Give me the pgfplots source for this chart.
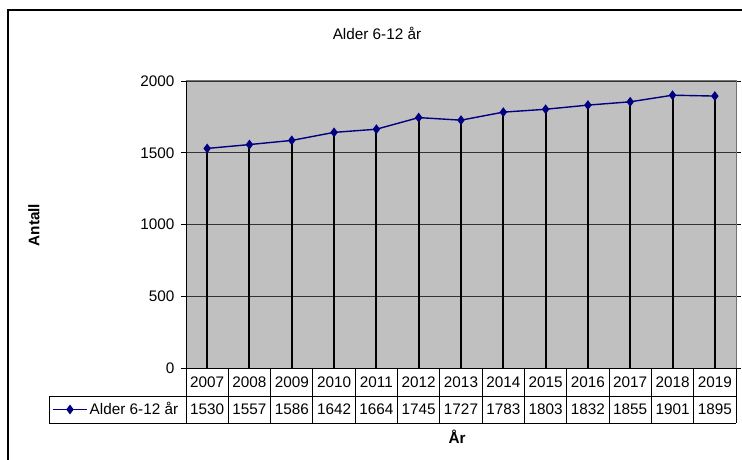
\documentclass[border=0pt]{standalone}
\usepackage{pgfplots}
\pgfplotsset{compat=1.18}
\usepackage{pgfplotstable}
\usepackage{fontspec}
\setmainfont{Liberation Sans}
\definecolor{navy}{HTML}{000080}
\definecolor{plotgray}{HTML}{C0C0C0}
\newcommand{\fs}{\fontsize{15.3}{17}\selectfont}
\pgfplotstableread{
x year v
0 2007 1530
1 2008 1557
2 2009 1586
3 2010 1642
4 2011 1664
5 2012 1745
6 2013 1727
7 2014 1783
8 2015 1803
9 2016 1832
10 2017 1855
11 2018 1901
12 2019 1895
}\datatable
\begin{document}
\begin{tikzpicture}[x=1pt,y=1pt]
\path[use as bounding box] (0,0) rectangle (742,459);
\draw[line width=1.5pt] (8,-30) -- (8,449) -- (745,449);
\begin{axis}[
  at={(186pt,91pt)}, anchor=south west,
  scale only axis, width=550pt, height=287pt,
  xmin=-0.5, xmax=12.5, ymin=0, ymax=2000,
  xtick=\empty,
  ytick={0,500,1000,1500,2000},
  tick align=outside,
  major tick length=5pt,
  ytick style={black, line width=0.8pt},
  axis line style={draw=none},
  axis background/.style={fill=plotgray},
  ymajorgrids,
  grid style={black!80, line width=0.8pt},
  /pgf/number format/assume math mode=true,
  /pgf/number format/set thousands separator={},
  yticklabel style={font=\fs, xshift=-3pt},
  clip=false,
  legend style={draw=none, fill=none, inner sep=0pt, outer sep=0pt,
    at={(axis cs:-3.66,-289.2)}, anchor=west, font=\fs},
  legend image code/.code={\draw[mark repeat=2,mark phase=2] plot coordinates {(0pt,0pt)(17pt,0pt)(34pt,0pt)};},
]
\addplot[ycomb, black, line width=2pt, mark=none, forget plot] table[x=x, y=v] {\datatable};
\addplot[navy, line width=1.4pt, mark=diamond*, mark size=3.8pt, mark options={fill=navy, draw=navy}] table[x=x, y=v] {\datatable};
\addlegendentry{Alder 6-12 år}
\addplot[draw=none, mark=none, forget plot, point meta=explicit symbolic, nodes near coords,
  every node near coord/.append style={anchor=center, font=\fs, inner sep=0pt}]
  table[x=x, y expr=-97.6, meta=year] {\datatable};
\addplot[draw=none, mark=none, forget plot, point meta=explicit symbolic, nodes near coords,
  every node near coord/.append style={anchor=center, font=\fs, inner sep=0pt}]
  table[x=x, y expr=-289.2, meta=v] {\datatable};
\end{axis}
% plot area border
\draw[gray!90!black, line width=1pt] (186,378) -- (736,378) -- (736,91);
\draw[black, line width=1pt] (186,378) -- (186,36);
% data table
\draw[black, line width=1pt] (186,91) -- (736,91) -- (736,36);
\draw[black, line width=1pt] (49,63) -- (736,63);
\draw[black, line width=1pt] (49,36) -- (736,36);
\draw[black, line width=1pt] (49,63) -- (49,36);
\foreach \k in {1,...,12} {
  \draw[black, line width=1pt] ({186+42.3077*\k},91) -- ({186+42.3077*\k},36);
}
% titles
\node[font=\fs] at (377,426) {Alder 6-12 år};
\node[font=\fs\bfseries] at (457,22) {År};
\node[font=\fs\bfseries, rotate=90] at (34,234) {Antall};
\end{tikzpicture}
\end{document}
